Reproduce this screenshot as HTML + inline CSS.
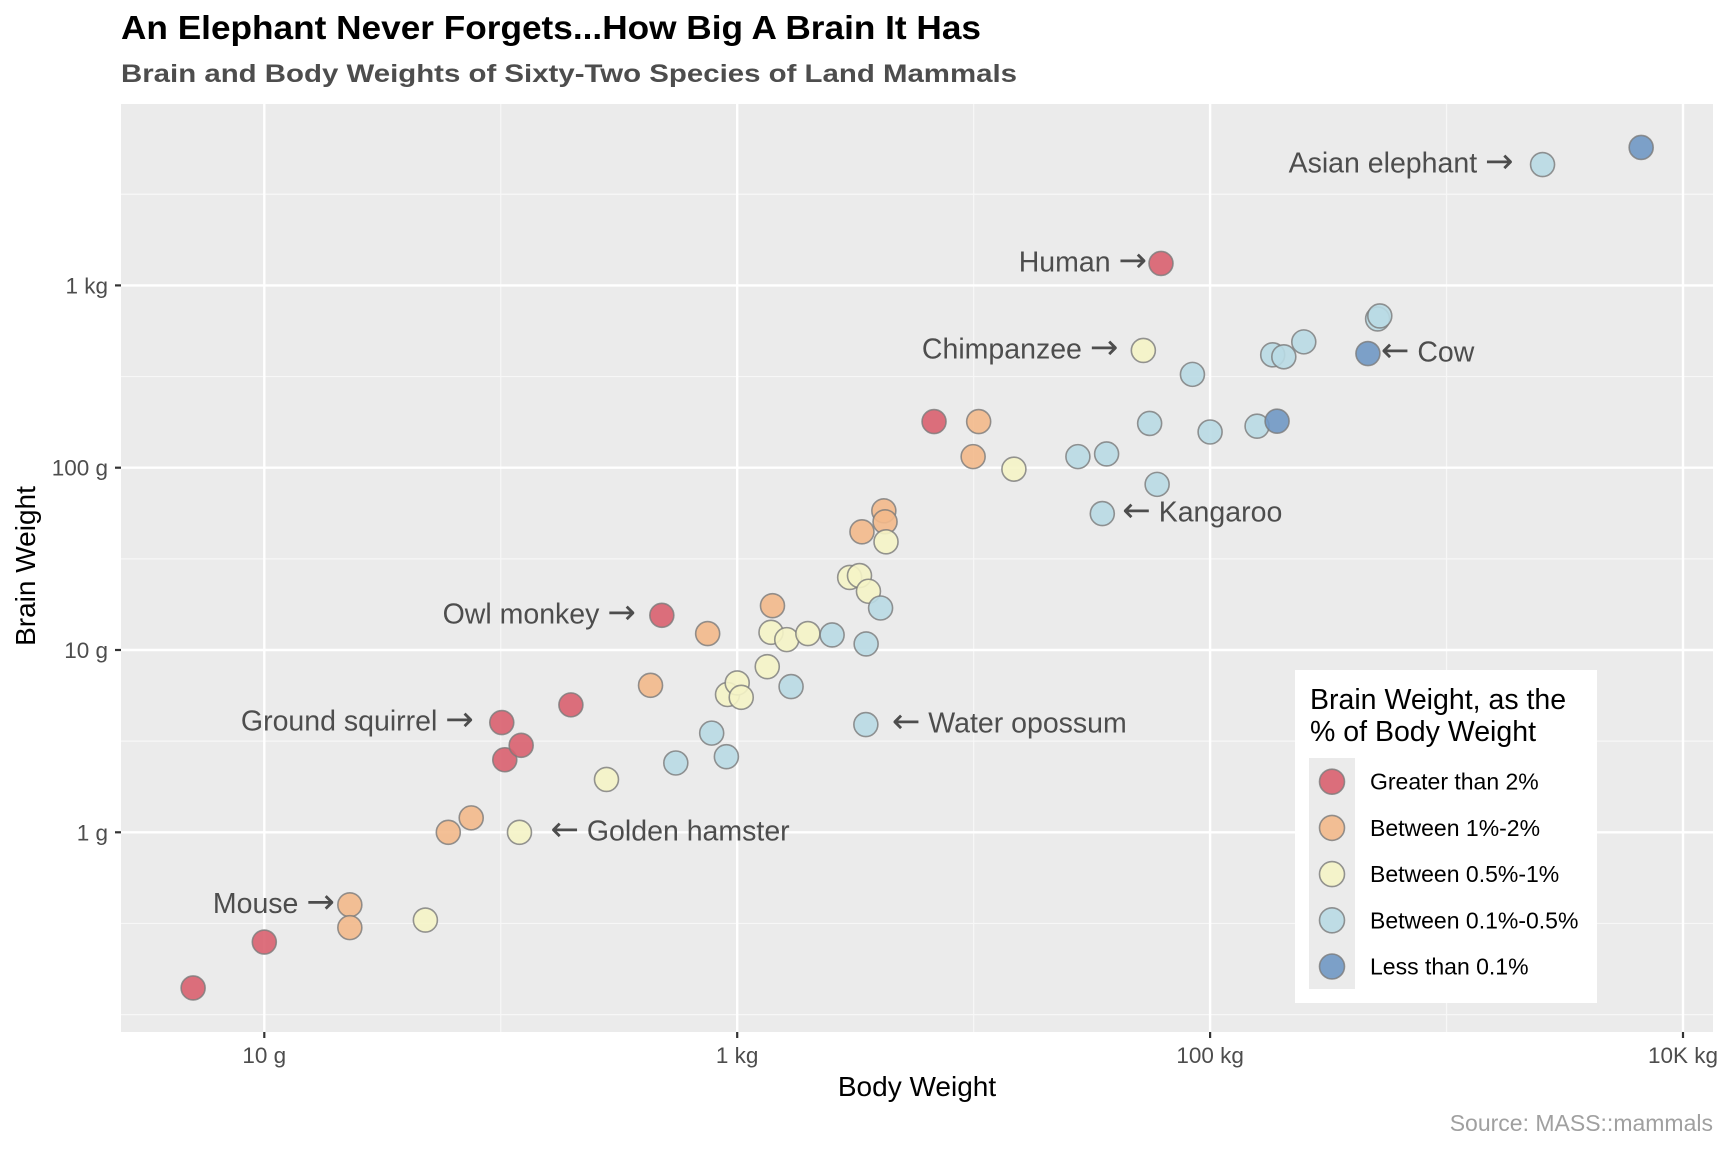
<!DOCTYPE html>
<html><head><meta charset="utf-8">
<style>
html,body{margin:0;padding:0;background:#fff;}
svg{display:block;font-family:"Liberation Sans",Arial,sans-serif;}
</style></head>
<body>
<svg id="chart" width="1728" height="1152" viewBox="0 0 1728 1152" xmlns="http://www.w3.org/2000/svg">
<rect x="0" y="0" width="1728" height="1152" fill="#ffffff"/>
<text x="121" y="39" font-size="33" font-weight="bold" fill="#000" textLength="860" lengthAdjust="spacingAndGlyphs">An Elephant Never Forgets...How Big A Brain It Has</text>
<text x="121" y="82" font-size="25" font-weight="bold" fill="#4d4d4d" textLength="896" lengthAdjust="spacingAndGlyphs">Brain and Body Weights of Sixty-Two Species of Land Mammals</text>
<rect x="121" y="104" width="1592" height="928" fill="#ebebeb"/>
<g id="grid"></g>
<g id="axes"></g>
<g id="points"></g>
<g id="annotations"></g>
<text x="917" y="1096" font-size="28" fill="#000" text-anchor="middle">Body Weight</text>
<text x="0" y="0" font-size="28" fill="#000" text-anchor="middle" transform="translate(35,566) rotate(-90)">Brain Weight</text>
<text x="1713" y="1131" font-size="23" fill="#a0a0a0" text-anchor="end">Source: MASS::mammals</text>
<g id="legend">
<rect x="1295" y="670" width="302" height="333" fill="#ffffff"/>
<text x="1310" y="709" font-size="28.5" fill="#000">Brain Weight, as the</text>
<text x="1310" y="741" font-size="28.5" fill="#000">% of Body Weight</text>
<rect x="1309" y="758" width="46" height="231" fill="#ebebeb"/>
</g>
</svg>
<script>
// ---- data (body weight in kg, brain weight in g) ----
const categories = ["Greater than 2%","Between 1%-2%","Between 0.5%-1%","Between 0.1%-0.5%","Less than 0.1%"];
const bodyRed   = [0.005, 0.01, 0.101, 0.104, 0.122, 0.198, 0.48, 6.8, 62];
const brainRed  = [0.14, 0.25, 4.0, 2.5, 3.0, 5.0, 15.5, 179, 1320];
const bodyOrange  = [0.023, 0.023, 0.06, 0.075, 0.43, 0.75, 1.41, 3.37, 4.17, 4.22, 9.95, 10.5];
const brainOrange = [0.4, 0.3, 1.0, 1.2, 6.4, 12.3, 17.5, 44.5, 58, 50.5, 115, 179];
const bodyYellow  = [0.048, 0.12, 0.28, 0.91, 1.0, 1.04, 1.34, 1.39, 1.62, 1.99, 2.99, 3.29, 3.59, 4.26, 14.8, 52.2];
const brainYellow = [0.33, 1.0, 1.95, 5.7, 6.6, 5.5, 8.1, 12.5, 11.4, 12.3, 25, 25.6, 21, 39.2, 98.2, 440];
const bodyLightBlue  = [0.55, 0.78, 0.90, 1.69, 2.52, 3.51, 3.5, 4.04, 27.6, 35, 36.5, 55.5, 59.7, 84.2, 100, 158, 184, 205, 249, 511, 522, 2547];
const brainLightBlue = [2.4, 3.5, 2.6, 6.3, 12.1, 10.8, 3.9, 17.0, 115, 56, 119, 175, 81, 325, 157, 169, 416, 406, 490, 655, 680, 4603];
const bodyDarkBlue  = [192, 465, 6654];
const brainDarkBlue = [180, 423, 5712];
const seriesBody  = [bodyRed, bodyOrange, bodyYellow, bodyLightBlue, bodyDarkBlue];
const seriesBrain = [brainRed, brainOrange, brainYellow, brainLightBlue, brainDarkBlue];
const xTickValues = [0.01, 1, 100, 10000];
const xTickLabels = ["10 g", "1 kg", "100 kg", "10K kg"];
const yTickValues = [1, 10, 100, 1000];
const yTickLabels = ["1 g", "10 g", "100 g", "1 kg"];
const annotationNames = ["Asian elephant", "Human", "Chimpanzee", "Cow", "Kangaroo", "Owl monkey", "Ground squirrel", "Water opossum", "Golden hamster", "Mouse"];
const annotationBody  = [2547, 62, 52.2, 465, 35, 0.48, 0.101, 3.5, 0.12, 0.023];
const annotationBrain = [4603, 1320, 440, 423, 56, 15.5, 4.0, 3.9, 1.0, 0.4];
const annotationSide  = ["left","left","left","right","right","left","left","right","right","left"];

// ---- styling ----
const annotationGap = [29, 14, 25, 13, 20, 26, 28, 26, 31, 15];
const fills = ["#d9606f","#f3b98b","#f5f4c6","#b9dae4","#7098c4"];
const NS = "http://www.w3.org/2000/svg";
const panel = {l:121, r:1713, t:104, b:1032};
function xScale(kg){ return 737.2 + Math.log10(kg) * 236.45; }
function yScale(g){ return 832.3 - Math.log10(g) * 182.3; }
function mk(tag, attrs, parent){
  const e = document.createElementNS(NS, tag);
  for (const k in attrs) e.setAttribute(k, attrs[k]);
  parent.appendChild(e);
  return e;
}
const grid = document.getElementById('grid');
const axes = document.getElementById('axes');
for (let i = 0; i < xTickValues.length - 1; i++) {
  const xm = xScale(Math.sqrt(xTickValues[i] * xTickValues[i+1]));
  const ln = mk('line', {x1:xm, x2:xm, y1:panel.t, y2:panel.b, stroke:'#f7f7f7', 'stroke-width':1.2}, grid);
  
  
}
const yMinorVals = [0.1*Math.sqrt(10), Math.sqrt(10), 10*Math.sqrt(10), 100*Math.sqrt(10), 1000*Math.sqrt(10), 0.1];
yMinorVals.forEach(v => {
  const ym = yScale(v);
  const ln = mk('line', {x1:panel.l, x2:panel.r, y1:ym, y2:ym, stroke:'#f7f7f7', 'stroke-width':1.2}, grid);
  
  
});
xTickValues.forEach((v, i) => {
  const x = xScale(v);
  const ln = mk('line', {x1:x, x2:x, y1:panel.t, y2:panel.b, stroke:'#ffffff', 'stroke-width':2.4}, grid);
  
  
  const tk = mk('line', {x1:x, x2:x, y1:panel.b, y2:panel.b+6, stroke:'#333', 'stroke-width':2.2}, axes);
  
  
  const t = mk('text', {x:x, y:1063, 'font-size':22.5, fill:'#4d4d4d', 'text-anchor':'middle'}, axes);
  t.textContent = xTickLabels[i];
  
  
});
yTickValues.forEach((v, i) => {
  const y = yScale(v);
  const ln = mk('line', {x1:panel.l, x2:panel.r, y1:y, y2:y, stroke:'#ffffff', 'stroke-width':2.4}, grid);
  
  
  const tk = mk('line', {x1:panel.l-6, x2:panel.l, y1:y, y2:y, stroke:'#333', 'stroke-width':2.2}, axes);
  
  
  const t = mk('text', {x:108, y:y+8, 'font-size':22.5, fill:'#4d4d4d', 'text-anchor':'end'}, axes);
  t.textContent = yTickLabels[i];
  
  
});
const pts = document.getElementById('points');
seriesBody.forEach((bodies, s) => {
  bodies.forEach((b, j) => {
    const c = mk('circle', {cx:xScale(b), cy:yScale(seriesBrain[s][j]), r:12, fill:fills[s], 'fill-opacity':0.9, stroke:'#7a7a7a', 'stroke-opacity':0.8, 'stroke-width':1.6}, pts);
    
    
  });
});
const ann = document.getElementById('annotations');
annotationNames.forEach((n, i) => {
  const x = xScale(annotationBody[i]), y = yScale(annotationBrain[i]);
  const left = annotationSide[i] === 'left';
  const gap = annotationGap[i];
  const t = mk('text', {x: left ? x - gap : x + gap, y: y + 8, 'font-size':28.5, fill:'#4d4d4d', 'text-anchor': left ? 'end' : 'start'}, ann);
  if (left) {
    t.appendChild(document.createTextNode(n + ' '));
    const a = mk('tspan', {'font-family':'"DejaVu Sans", sans-serif', 'font-size':34}, t);
    a.textContent = '\u2192';
  } else {
    const a = mk('tspan', {'font-family':'"DejaVu Sans", sans-serif', 'font-size':34}, t);
    a.textContent = '\u2190';
    t.appendChild(document.createTextNode(' ' + n));
  }
  
  
});
const lg = document.getElementById('legend');
categories.forEach((c, i) => {
  const cy = 781.7 + i * 46.2;
  const k = mk('circle', {cx:1332, cy:cy, r:12.5, fill:fills[i], 'fill-opacity':0.9, stroke:'#7a7a7a', 'stroke-opacity':0.8, 'stroke-width':1.6}, lg);
  
  
  const t = mk('text', {x:1370, y:cy+8, 'font-size':23, fill:'#000'}, lg);
  t.textContent = c;
  
  
});
</script>
</body></html>
